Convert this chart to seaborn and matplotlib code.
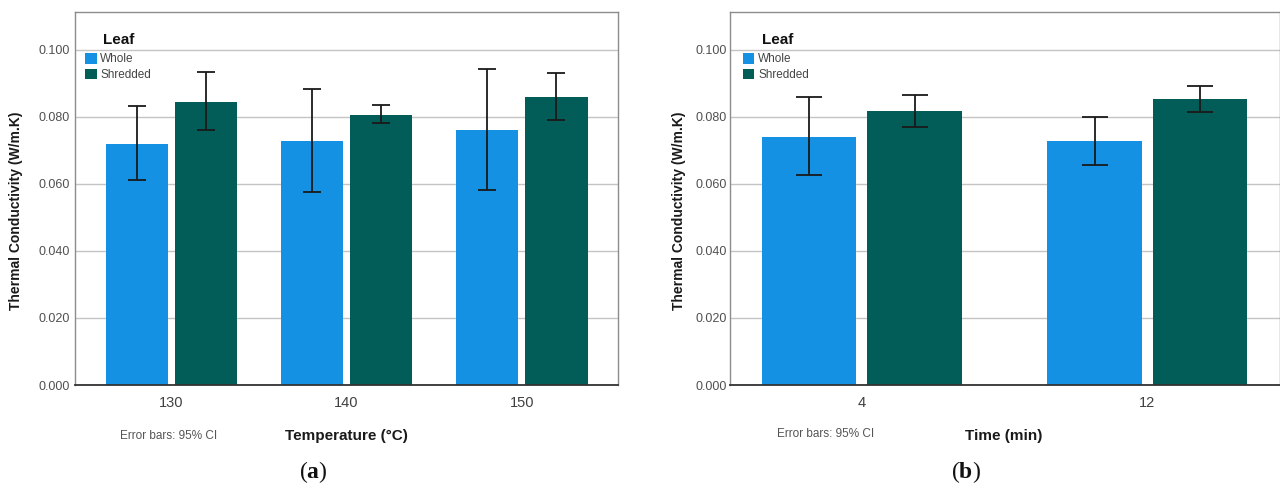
import numpy as np
import pandas as pd
import matplotlib
matplotlib.use("Agg")
import matplotlib.pyplot as plt
import seaborn as sns
from matplotlib.patches import Patch

# ---------------- data ----------------
leaf_levels = ["Whole", "Shredded"]

temp_labels = ["130", "140", "150"]
temp_whole_mean = [0.0719, 0.0729, 0.0761]
temp_whole_lo = [0.0613, 0.0575, 0.0582]
temp_whole_hi = [0.0833, 0.0883, 0.0942]
temp_shred_mean = [0.0845, 0.0807, 0.0858]
temp_shred_lo = [0.0760, 0.0781, 0.0791]
temp_shred_hi = [0.0933, 0.0835, 0.0930]

time_labels = ["4", "12"]
time_whole_mean = [0.0741, 0.0728]
time_whole_lo = [0.0626, 0.0656]
time_whole_hi = [0.0858, 0.0799]
time_shred_mean = [0.0818, 0.0852]
time_shred_lo = [0.0771, 0.0814]
time_shred_hi = [0.0865, 0.0893]

y_ticks = [0.000, 0.020, 0.040, 0.060, 0.080, 0.100]

# ---------------- style ----------------
sns.set_style("white")
plt.rcParams["font.family"] = ["Liberation Sans", "DejaVu Sans"]
plt.rcParams["mathtext.fontset"] = "custom"
plt.rcParams["mathtext.rm"] = "Liberation Serif"
plt.rcParams["mathtext.bf"] = "Liberation Serif:bold"

BLUE = "#1591E3"
TEAL = "#025C57"
palette = {"Whole": BLUE, "Shredded": TEAL}

W, H = 1280, 486
fig = plt.figure(figsize=(12.8, 4.86), dpi=100)


def px_rect(x0, x1, ytop, ybot):
    return [x0 / W, 1 - ybot / H, (x1 - x0) / W, (ybot - ytop) / H]


def draw_panel(ax, cats, w_mean, w_lo, w_hi, s_mean, s_lo, s_hi,
               width, gap, capsize, xlim, ypad, leg_x, title_x):
    df = pd.DataFrame({
        "cat": cats * 2,
        "Leaf": ["Whole"] * len(cats) + ["Shredded"] * len(cats),
        "k": list(w_mean) + list(s_mean),
    })
    sns.barplot(data=df, x="cat", y="k", hue="Leaf", order=cats,
                hue_order=leaf_levels, palette=palette, saturation=1,
                width=width, gap=gap, errorbar=None, legend=False,
                linewidth=0, ax=ax)
    los = {"Whole": w_lo, "Shredded": s_lo}
    his = {"Whole": w_hi, "Shredded": s_hi}
    for cont, lvl in zip(ax.containers, leaf_levels):
        xs = np.array([b.get_x() + b.get_width() / 2 for b in cont])
        ys = np.array([b.get_height() for b in cont])
        lo = np.array(los[lvl])
        hi = np.array(his[lvl])
        ax.errorbar(xs, ys, yerr=[ys - lo, hi - ys], fmt="none",
                    ecolor="#1a1a1a", elinewidth=1.3, capsize=capsize,
                    capthick=1.3, zorder=5)
    ax.set_xlim(*xlim)
    ax.set_ylim(0, 0.1113)
    ax.set_yticks(y_ticks)
    ax.set_yticklabels([f"{v:.3f}" for v in y_ticks])
    ax.set_xlabel("")
    ax.set_ylabel("")
    ax.tick_params(axis="y", length=0, pad=ypad, labelsize=9, labelcolor="#505050")
    ax.tick_params(axis="x", length=0, pad=8, labelsize=10.5, labelcolor="#404040")
    ax.yaxis.grid(True, color="#c4c4c4", linewidth=1.0)
    ax.xaxis.grid(False)
    ax.set_axisbelow(True)
    for s in ["left", "top", "right"]:
        ax.spines[s].set_color("#8c8c8c")
        ax.spines[s].set_linewidth(1.0)
    ax.spines["bottom"].set_color("#333333")
    ax.spines["bottom"].set_linewidth(1.3)

    handles = [Patch(facecolor=palette[l], edgecolor="none") for l in leaf_levels]
    leg = ax.legend(handles, leaf_levels, loc="upper left",
                    bbox_to_anchor=(leg_x, 0.89), frameon=False,
                    fontsize=8.5, handlelength=1.0, handleheight=1.0,
                    handletextpad=0.3, labelspacing=0.3, borderpad=0,
                    borderaxespad=0)
    for t in leg.get_texts():
        t.set_color("#454545")
    ax.text(title_x, 0.914, "Leaf", transform=ax.transAxes, fontsize=11,
            fontweight="bold", color="#111111", ha="left", va="baseline")


ax_a = fig.add_axes(px_rect(75, 618, 12, 385))
draw_panel(ax_a, temp_labels, temp_whole_mean, temp_whole_lo, temp_whole_hi,
           temp_shred_mean, temp_shred_lo, temp_shred_hi,
           width=0.79, gap=0.096, capsize=6.2, xlim=(-0.551, 2.55),
           ypad=3.5, leg_x=0.0184, title_x=0.052)

ax_b = fig.add_axes(px_rect(730, 1279.5, 12, 385))
draw_panel(ax_b, time_labels, time_whole_mean, time_whole_lo, time_whole_hi,
           time_shred_mean, time_shred_lo, time_shred_hi,
           width=0.739, gap=0.104, capsize=9.6, xlim=(-0.462, 1.463),
           ypad=2, leg_x=0.0231, title_x=0.058)

ylab = "Thermal Conductivity (W/m.K)"
fig.text(16 / W, 1 - 210.5 / H, ylab, rotation=90, ha="center", va="center",
         fontsize=10, fontweight="bold", color="#1a1a1a")
fig.text(679 / W, 1 - 210.5 / H, ylab, rotation=90, ha="center", va="center",
         fontsize=10, fontweight="bold", color="#1a1a1a")

fig.text(346 / W, 1 - 436 / H, "Temperature (°C)", ha="center", va="center",
         fontsize=11, fontweight="bold", color="#1a1a1a")
fig.text(1004 / W, 1 - 436 / H, "Time (min)", ha="center", va="center",
         fontsize=11, fontweight="bold", color="#1a1a1a")

fig.text(168.5 / W, 1 - 436 / H, "Error bars: 95% CI", ha="center", va="center",
         fontsize=8.5, color="#555555")
fig.text(826 / W, 1 - 434 / H, "Error bars: 95% CI", ha="center", va="center",
         fontsize=8.5, color="#555555")

fig.text(313 / W, 1 - 472 / H, r"($\mathbf{a}$)", ha="center", va="center",
         fontsize=17, family="Liberation Serif", color="#111111")
fig.text(966 / W, 1 - 472 / H, r"($\mathbf{b}$)", ha="center", va="center",
         fontsize=17, family="Liberation Serif", color="#111111")

fig.savefig("out.png", dpi=100)
